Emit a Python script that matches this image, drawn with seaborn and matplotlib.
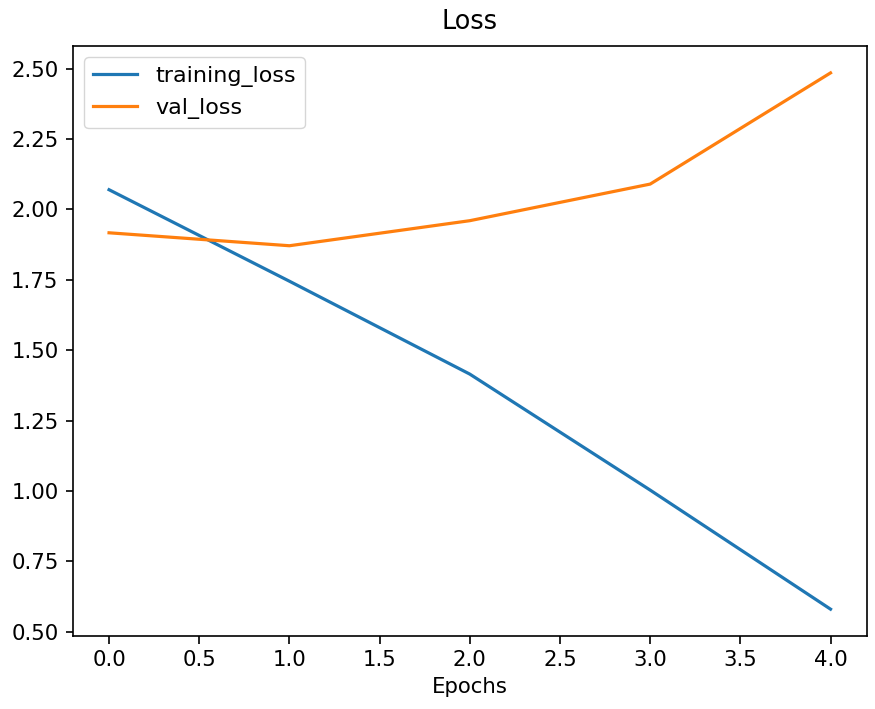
import matplotlib
matplotlib.use("Agg")
import matplotlib.pyplot as plt
import pandas as pd
import seaborn as sns

epochs = [0, 1, 2, 3, 4]
training_loss = [2.070, 1.745, 1.415, 1.003, 0.580]
val_loss = [1.917, 1.871, 1.960, 2.090, 2.485]

pdf = pd.DataFrame({"epoch": epochs, "training_loss": training_loss, "val_loss": val_loss})

# reference looks like default mpl style rendered at ~1.5x scale
plt.rcParams["axes.linewidth"] = 1.2
plt.rcParams["xtick.major.width"] = 1.2
plt.rcParams["ytick.major.width"] = 1.2
plt.rcParams["xtick.major.size"] = 5.4
plt.rcParams["ytick.major.size"] = 5.4

fig = plt.figure(figsize=(8.75, 7.09), dpi=100)
ax = fig.add_axes([0.0834, 0.103, 0.907, 0.832])

sns.lineplot(data=pdf, x="epoch", y="training_loss", ax=ax, label="training_loss", linewidth=2.3)
sns.lineplot(data=pdf, x="epoch", y="val_loss", ax=ax, label="val_loss", linewidth=2.3)

ax.set_title("Loss", fontsize=18.4, pad=12)
ax.set_xlabel("Epochs", fontsize=15.3, labelpad=5)
ax.set_ylabel("")
ax.tick_params(labelsize=15.3, pad=5)
ax.yaxis.set_major_formatter(matplotlib.ticker.FormatStrFormatter("%.2f"))
ax.legend(loc="upper left", fontsize=16)

fig.savefig("out.png", dpi=100)
